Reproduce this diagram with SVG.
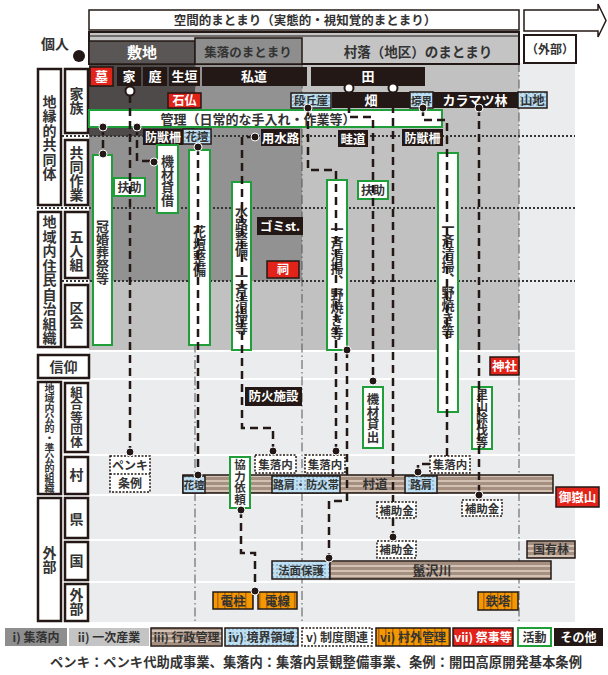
<svg xmlns="http://www.w3.org/2000/svg" width="608" height="675" viewBox="0 0 608 675">
<defs>
<pattern id="brown" width="6" height="5" patternUnits="userSpaceOnUse"><rect width="6" height="5" fill="#a58f80"/><rect width="6" height="2" fill="#d3c2b4"/></pattern>
<pattern id="blue" width="4" height="4" patternUnits="userSpaceOnUse"><rect width="4" height="4" fill="#bfe0f2"/><circle cx="1" cy="1" r="0.8" fill="#5b8fae"/></pattern>
<pattern id="orange" width="7" height="4" patternUnits="userSpaceOnUse"><rect width="7" height="4" fill="#f39800"/><rect width="1.5" height="4" fill="#b8680a"/></pattern>
<style>
text{font-family:"Noto Sans CJK JP","Noto Sans",sans-serif;font-weight:bold;fill:#333}
.v{writing-mode:vertical-rl;text-anchor:middle}
.m{text-anchor:middle}
.w{fill:#fff}
.lab{fill:#fff;stroke:#231815;stroke-width:2.5}
.blk{fill:#231815}
.red{fill:#e2231a;stroke:#231815;stroke-width:1.5}
.bl{fill:url(#blue);stroke:#231815;stroke-width:1.5}
.br{fill:url(#brown);stroke:#231815;stroke-width:1.5}
.or{fill:url(#orange);stroke:#231815;stroke-width:1.5}
.act{fill:#fff;stroke:#1f9e3a;stroke-width:2}
.inst{fill:#fff;stroke:#231815;stroke-width:1.5;stroke-dasharray:2 1.5}
.dash{fill:none;stroke:#231815;stroke-width:2.5;stroke-dasharray:8 5}
.dot{fill:#231815;stroke:#fff;stroke-width:1}
.oc{fill:#fff;stroke:#231815;stroke-width:2}
.dd{fill:none;stroke:#555;stroke-width:1;stroke-dasharray:9 3 1.5 3}
.dl{fill:none;stroke:#333;stroke-width:2;stroke-dasharray:2 2}
</style>
</defs>
<rect width="608" height="675" fill="#fff"/>
<g id="background">
<rect x="89" y="63" width="106" height="73" fill="#4f4a4a"/>
<rect x="89" y="136" width="106" height="145" fill="#929292"/>
<rect x="195" y="63" width="107" height="218" fill="#929292"/>
<rect x="89" y="281" width="213" height="69" fill="#c1c1c1"/>
<rect x="302" y="63" width="217" height="287" fill="#c1c1c1"/>
<rect x="519" y="63" width="56" height="287" fill="#eaeced"/>
<rect x="89" y="352" width="486" height="26" fill="#eaeced"/>
<rect x="89" y="380" width="486" height="74" fill="#eaeced"/>
<rect x="89" y="456" width="486" height="38" fill="#eaeced"/>
<rect x="89" y="496" width="486" height="43" fill="#eaeced"/>
<rect x="89" y="541" width="486" height="40" fill="#eaeced"/>
<rect x="89" y="583" width="486" height="39" fill="#eaeced"/>
<path class="dd" d="M195,63V622M302,63V622M519,63V622"/>
<path class="dl" d="M62,136H575M37,208H575M62,281H575"/>
</g>
<g id="header">
<rect x="89" y="10" width="430" height="20" fill="#fff" stroke="#231815" stroke-width="1.5"/>
<text class="m" x="305" y="25" font-size="12.5">空間的まとまり（実態的・視知覚的まとまり）</text>
<polygon points="524,10 598,10 598,4 606,20.5 598,37 598,31 524,31" fill="#fff" stroke="#231815" stroke-width="1.5"/>
<rect x="89" y="32" width="430" height="32" fill="#c4c4c4" stroke="#231815" stroke-width="2"/>
<line x1="89" y1="36" x2="519" y2="36" stroke="#231815" stroke-width="1"/>
<rect x="89" y="41" width="106" height="23" fill="#5b5656" stroke="#231815" stroke-width="1.5"/>
<text class="m w" x="142" y="58" font-size="15">敷地</text>
<rect x="195" y="38" width="107" height="26" fill="#8e8e8e" stroke="#231815" stroke-width="1.5"/>
<text class="m" x="248" y="57" font-size="12.5">集落のまとまり</text>
<text class="m" x="418" y="57" font-size="13.5">村落（地区）のまとまり</text>
<rect x="524" y="35" width="52" height="28" fill="#fff" stroke="#231815" stroke-width="2"/>
<text class="m" x="550" y="54" font-size="12">（外部）</text>
<text class="m" x="55" y="49" font-size="14">個人</text>
<circle cx="79" cy="56" r="6" fill="#231815"/>
</g>
<g id="row-labels">
<rect class="lab" x="38" y="69" width="23" height="136"/><text class="v" x="49.5" y="138" font-size="14" letter-spacing="0.5">地縁的共同体</text>
<rect class="lab" x="38" y="212" width="23" height="135"/><text class="v" x="49.5" y="280" font-size="14" letter-spacing="0.5">地域内住民自治組織</text>
<rect class="lab" x="38" y="355" width="51" height="23"/><text class="m" x="63.5" y="372" font-size="14">信仰</text>
<rect class="lab" x="38" y="382" width="23" height="112"/><text class="v" x="49.5" y="438" font-size="10">地域内公的・準公的組織</text>
<rect class="lab" x="38" y="498" width="23" height="123"/><text class="v" x="49.5" y="560" font-size="14">外部</text>
<rect class="lab" x="65" y="69" width="23" height="64"/><text class="v" x="76.5" y="101" font-size="14">家族</text>
<rect class="lab" x="65" y="140" width="23" height="65"/><text class="v" x="76.5" y="174" font-size="14">共同作業</text>
<rect class="lab" x="65" y="212" width="23" height="66"/><text class="v" x="76.5" y="251" font-size="14">五人組</text>
<rect class="lab" x="65" y="285" width="23" height="62"/><text class="v" x="76.5" y="315" font-size="14">区会</text>
<rect class="lab" x="65" y="383" width="23" height="69"/><text class="v" x="76.5" y="417" font-size="12.5">組合等団体</text>
<rect class="lab" x="65" y="457" width="23" height="37"/><text class="v" x="76.5" y="475" font-size="14">村</text>
<rect class="lab" x="65" y="498" width="23" height="40"/><text class="v" x="76.5" y="519" font-size="14">県</text>
<rect class="lab" x="65" y="542" width="23" height="38"/><text class="v" x="76.5" y="561" font-size="14">国</text>
<rect class="lab" x="65" y="584" width="23" height="37"/><text class="v" x="76.5" y="602" font-size="14">外部</text>
</g>
<g id="n-haka"><rect class="red" x="90" y="67" width="23" height="19"/><text class="m w" x="101.5" y="81" font-size="13">墓</text></g>
<g id="n-ie"><rect class="blk" x="117" y="67" width="24" height="19"/><text class="m w" x="129" y="81" font-size="13">家</text></g>
<g id="n-niwa"><rect class="blk" x="143" y="67" width="24" height="19"/><text class="m w" x="155" y="81" font-size="13">庭</text></g>
<g id="n-ikegaki"><rect class="blk" x="169" y="67" width="31" height="19"/><text class="m w" x="184.5" y="81" font-size="13">生垣</text></g>
<g id="n-shido"><rect class="blk" x="202" y="67" width="105" height="19"/><text class="m w" x="254" y="81" font-size="13">私道</text></g>
<g id="n-ta"><rect class="blk" x="311" y="67" width="114" height="19"/><text class="m w" x="368" y="81" font-size="13">田</text></g>
<g id="n-sekibutsu"><rect class="red" x="168" y="93" width="33" height="15"/><text class="m w" x="184.5" y="105" font-size="12">石仏</text></g>
<g id="n-dankyugai"><rect class="bl" x="291" y="93" width="40" height="15"/><text class="m" x="311" y="105" font-size="11.5">段丘崖</text></g>
<g id="n-hatake"><rect class="blk" x="332" y="92" width="78" height="16"/><text class="m w" x="371" y="105" font-size="13">畑</text></g>
<g id="n-kyokai"><rect class="bl" x="410" y="92" width="23" height="16"/><text class="m" x="421.5" y="104.5" font-size="10.5">境界</text></g>
<g id="n-karamatsu"><rect class="blk" x="433" y="92" width="85" height="16"/><text class="m w" x="475" y="105" font-size="13">カラマツ林</text></g>
<g id="n-sanchi"><rect class="bl" x="518" y="92" width="29" height="16"/><text class="m" x="532.5" y="105" font-size="12">山地</text></g>
<g id="n-kanri"><rect class="act" x="89" y="110" width="353" height="17"/><text class="m" x="258" y="123.5" font-size="13">管理（日常的な手入れ・作業等）</text></g>
<g id="n-bojusaku1"><rect class="blk" x="143" y="129" width="40" height="16"/><text class="m w" x="163" y="142" font-size="12">防獣柵</text></g>
<g id="n-kadan1"><rect class="bl" x="183" y="129" width="28" height="15"/><text class="m" x="197" y="141" font-size="11.5">花壇</text></g>
<g id="n-yosuiro"><rect class="blk" x="261" y="129" width="39" height="17"/><text class="m w" x="280.5" y="142.5" font-size="12.5">用水路</text></g>
<g id="n-azemichi"><rect class="blk" x="338" y="130" width="30" height="17"/><text class="m w" x="353" y="143.5" font-size="12.5">畦道</text></g>
<g id="n-bojusaku2"><rect class="blk" x="402" y="129" width="41" height="17"/><text class="m w" x="422.5" y="142.5" font-size="12">防獣柵</text></g>
<g id="n-kankon"><rect class="act" x="93" y="155" width="19" height="190"/><text class="v" x="102.5" y="252" font-size="13">冠婚葬祭等</text></g>
<g id="n-fujo1"><rect class="act" x="114" y="178" width="31" height="18"/><text class="m" x="129.5" y="191.5" font-size="12">扶助</text></g>
<g id="n-kizai-taishaku"><rect class="act" x="157" y="145" width="21" height="68"/><text class="v" x="167.5" y="181" font-size="13">機材貸借</text></g>
<g id="n-kadan-seibi"><rect class="act" x="189" y="150" width="21" height="195"/><text class="v" x="199.5" y="251" font-size="13">花壇整備</text></g>
<g id="n-suiro"><rect class="act" x="232" y="182" width="19" height="168"/><text class="v" x="241.5" y="270" font-size="13">水路整備、一斉清掃等</text></g>
<g id="n-gomi"><rect class="blk" x="257" y="217" width="46" height="18"/><text class="m w" x="280" y="231" font-size="12.5">ゴミst.</text></g>
<g id="n-hokora"><rect class="red" x="267" y="261" width="32" height="17"/><text class="m w" x="283" y="274" font-size="12">祠</text></g>
<g id="n-issei1"><rect class="act" x="327" y="180" width="20" height="170"/><text class="v" x="337" y="281" font-size="13">一斉清掃、野焼き等</text></g>
<g id="n-fujo2"><rect class="act" x="358" y="181" width="30" height="18"/><text class="m" x="373" y="194.5" font-size="12">扶助</text></g>
<g id="n-issei2"><rect class="act" x="438" y="153" width="20" height="259"/><text class="v" x="448" y="279" font-size="13">一斉清掃、野焼き等</text></g>
<g id="n-jinja"><rect class="red" x="490" y="357" width="29" height="18"/><text class="m w" x="504.5" y="371" font-size="12.5">神社</text></g>
<g id="n-boka"><rect class="blk" x="245" y="387" width="57" height="19"/><text class="m w" x="273.5" y="401" font-size="12.5">防火施設</text></g>
<g id="n-kizai-kashidashi"><rect class="act" x="363" y="387" width="20" height="61"/><text class="v" x="373" y="418" font-size="12.5">機材貸出</text></g>
<g id="n-satoyama"><rect class="act" x="472" y="387" width="20" height="62"/><text class="v" x="482" y="418" font-size="12">里山除伐等</text></g>
<g id="n-penki"><rect class="inst" x="110" y="456" width="40" height="36"/><line x1="110" y1="474" x2="150" y2="474" stroke="#231815" stroke-width="1.5" stroke-dasharray="2 1.5"/><text class="m" x="130" y="470" font-size="12">ペンキ</text><text class="m" x="130" y="488" font-size="12">条例</text></g>
<g id="n-sondo"><rect class="br" x="183" y="475" width="370" height="18"/><text class="m" x="375" y="489" font-size="12.5">村道</text></g>
<g id="n-kadan2"><rect class="bl" x="183" y="476" width="22" height="17"/><text class="m" x="194" y="489" font-size="10.5">花壇</text></g>
<g id="n-rokata1"><rect class="bl" x="272" y="476" width="68" height="17"/><text class="m" x="306" y="489" font-size="11">路肩・防火帯</text></g>
<g id="n-rokata2"><rect class="bl" x="405" y="476" width="32" height="17"/><text class="m" x="421" y="489" font-size="11">路肩</text></g>
<g id="n-shuraku1"><rect class="inst" x="255" y="455" width="41" height="18"/><text class="m" x="275.5" y="468.5" font-size="11.5">集落内</text></g>
<g id="n-shuraku2"><rect class="inst" x="305" y="455" width="40" height="18"/><text class="m" x="325" y="468.5" font-size="11.5">集落内</text></g>
<g id="n-shuraku3"><rect class="inst" x="430" y="456" width="40" height="17"/><text class="m" x="450" y="469" font-size="11.5">集落内</text></g>
<g id="n-kyoryoku"><rect class="act" x="230" y="457" width="20" height="51"/><text class="v" x="240" y="482" font-size="11.5">協力依頼</text></g>
<g id="n-ontake"><rect class="red" x="556" y="487" width="43" height="20"/><text class="m w" x="577.5" y="502" font-size="12.5">御嶽山</text></g>
<g id="n-hojo1"><rect class="inst" x="377" y="502" width="39" height="16"/><text class="m" x="396.5" y="514.5" font-size="11.5">補助金</text></g>
<g id="n-hojo3"><rect class="inst" x="462" y="500" width="40" height="16"/><text class="m" x="482" y="512.5" font-size="11.5">補助金</text></g>
<g id="n-hojo2"><rect class="inst" x="377" y="541" width="39" height="17"/><text class="m" x="396.5" y="554" font-size="11.5">補助金</text></g>
<g id="n-kokuyurin"><rect class="br" x="527" y="541" width="48" height="17"/><text class="m" x="551" y="554" font-size="12">国有林</text></g>
<g id="n-norimen"><rect class="bl" x="272" y="561" width="58" height="18"/><text class="m" x="301" y="574.5" font-size="11.5">法面保護</text></g>
<g id="n-river"><rect class="br" x="330" y="561" width="221" height="18"/><text class="m" x="432" y="575" font-size="13">鬣沢川</text></g>
<g id="n-denchu"><rect class="or" x="213" y="592" width="40" height="17"/><text class="m" x="233" y="605.5" font-size="12.5">電柱</text></g>
<g id="n-densen"><rect class="or" x="258" y="592" width="39" height="17"/><text class="m" x="277.5" y="605.5" font-size="12.5">電線</text></g>
<g id="n-tetto"><rect class="or" x="478" y="592" width="40" height="18"/><text class="m" x="498" y="605.5" font-size="12.5">鉄塔</text></g>
<g id="connectors">
<path class="dash" d="M130,95V452"/>
<path class="dash" d="M103,127V154"/>
<path class="dash" d="M137,127V161H154"/>
<path class="dash" d="M198,147V475"/>
<path class="dash" d="M255,137H242V428H273V451"/>
<path class="dash" d="M308,108V170H336V451"/>
<path class="dash" d="M349,92V117H373V381"/>
<path class="dash" d="M393,92V502"/>
<path class="dash" d="M393,518V537"/>
<path class="dash" d="M423,108V120H447V456"/>
<path class="dash" d="M430,464H418V472"/>
<path class="dash" d="M479,108V495"/>
<path class="dash" d="M347,350V501H329V558"/>
<path class="dash" d="M241,510V553H255V591"/>
<circle class="oc" cx="130" cy="91" r="4.5"/>
<circle class="oc" cx="349" cy="88" r="4.5"/>
<circle class="oc" cx="393" cy="88" r="4.5"/>
<g class="dot">
<circle cx="103" cy="127" r="4"/><circle cx="137" cy="127" r="4"/><circle cx="103" cy="154" r="4"/><circle cx="154" cy="162" r="4"/>
<circle cx="198" cy="147" r="4"/><circle cx="255" cy="137" r="4"/><circle cx="308" cy="108" r="4"/><circle cx="423" cy="108" r="4"/>
<circle cx="479" cy="108" r="4"/><circle cx="130" cy="452" r="4"/><circle cx="198" cy="475" r="4"/><circle cx="273" cy="451" r="4"/>
<circle cx="336" cy="451" r="4"/><circle cx="347" cy="350" r="4"/><circle cx="373" cy="381" r="4"/><circle cx="418" cy="472" r="4"/>
<circle cx="479" cy="495" r="4"/><circle cx="393" cy="537" r="4"/><circle cx="329" cy="558" r="4"/><circle cx="241" cy="510" r="4"/>
<circle cx="255" cy="591" r="4"/>
</g>
</g>
<g id="legend">
<rect x="5" y="628" width="62" height="18" fill="#8e8e8e"/><text class="m" x="36" y="641.5" font-size="12">i) 集落内</text>
<rect x="69" y="628" width="80" height="18" fill="#c4c4c4"/><text class="m" x="109" y="641.5" font-size="12">ii) 一次産業</text>
<rect class="br" x="151" y="628" width="71" height="18"/><text class="m" x="186.5" y="641.5" font-size="12">iii) 行政管理</text>
<rect class="bl" x="225" y="628" width="73" height="18"/><text class="m" x="261.5" y="641.5" font-size="12">iv) 境界領域</text>
<rect class="inst" x="302" y="628" width="70" height="18"/><text class="m" x="337" y="641.5" font-size="12">v) 制度関連</text>
<rect class="or" x="376" y="628" width="74" height="18"/><text class="m" x="413" y="641.5" font-size="12">vi) 村外管理</text>
<rect class="red" x="453" y="628" width="60" height="18"/><text class="m w" x="483" y="641.5" font-size="12">vii) 祭事等</text>
<rect class="act" x="518" y="628" width="33" height="18"/><text class="m" x="534.5" y="641.5" font-size="12">活動</text>
<rect class="blk" x="554" y="628" width="49" height="18"/><text class="m w" x="578.5" y="641.5" font-size="12">その他</text>
<text class="m" x="316" y="667" font-size="13.3">ペンキ：ペンキ代助成事業、集落内：集落内景観整備事業、条例：開田高原開発基本条例</text>
</g>
</svg>
